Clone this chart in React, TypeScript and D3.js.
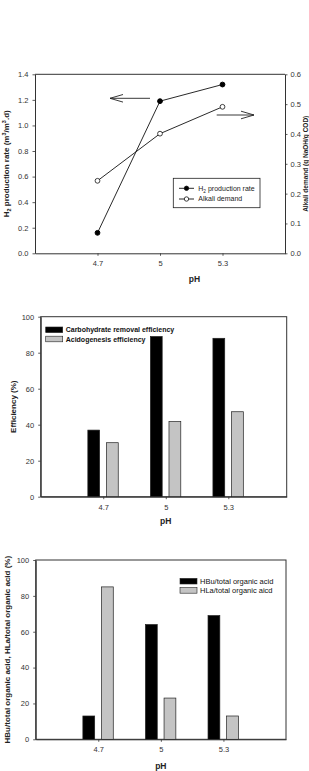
import React, { useEffect, useRef } from "react";
import * as d3 from "d3";

// pH levels shared by all three panels
const phLevels = [4.7, 5, 5.3];
const phTickLabels = ["4.7", "5", "5.3"];

// Panel A: hydrogen production rate (left axis) and alkali demand (right axis)
const h2Rate = [0.16, 1.19, 1.32];
const alkaliDemand = [0.243, 0.401, 0.491];
const leftTicks = [0, 0.2, 0.4, 0.6, 0.8, 1.0, 1.2, 1.4];
const rightTicks = [0, 0.1, 0.2, 0.3, 0.4, 0.5, 0.6];

// Panel B: efficiencies (%)
const carbohydrateRemoval = [37, 89, 88];
const acidogenesis = [30, 41.7, 47.2];

// Panel C: acid fractions (%)
const hbuFraction = [13, 64, 69];
const hlaFraction = [85, 23, 13];
const percentTicks = [0, 20, 40, 60, 80, 100];

const FONT = "'Liberation Sans', Arial, sans-serif";
const AXIS = "#333";
const GREY = "#c4c4c4";

function styleAxis(g: d3.Selection<SVGGElement, unknown, null, undefined>) {
  g.selectAll("path").attr("stroke", AXIS).attr("stroke-width", 1);
  g.selectAll("line").attr("stroke", AXIS).attr("stroke-width", 0.8);
  g.selectAll("text")
    .attr("fill", "#333")
    .attr("font-size", 7.5)
    .attr("font-family", FONT);
}

function drawArrow(
  g: d3.Selection<SVGGElement, unknown, null, undefined>,
  x0: number,
  x1: number,
  y: number
) {
  // shaft from x0 to tip x1, open chevron head at x1
  const dir = x1 > x0 ? -1 : 1;
  g.append("line")
    .attr("x1", x0).attr("x2", x1).attr("y1", y).attr("y2", y)
    .attr("stroke", "#222").attr("stroke-width", 0.9);
  g.append("path")
    .attr("d", `M${x1 + dir * 13},${y - 3.8} L${x1},${y} L${x1 + dir * 13},${y + 3.8}`)
    .attr("fill", "none").attr("stroke", "#222").attr("stroke-width", 0.9);
}

export default function App() {
  const ref = useRef<SVGSVGElement | null>(null);

  useEffect(() => {
    const svg = d3.select(ref.current as SVGSVGElement);
    svg.selectAll("*").remove();

    // ---------- Panel A ----------
    {
      const L = 35, R = 285, T = 74.3, B = 253.3;
      const x = d3.scaleLinear().domain([4.4, 5.6]).range([L, R]);
      const yL = d3.scaleLinear().domain([0, 1.4]).range([B, T]);
      const yR = d3.scaleLinear().domain([0, 0.6]).range([B, T]);
      const g = svg.append("g");

      // frame top line
      g.append("line").attr("x1", L).attr("x2", R).attr("y1", T).attr("y2", T)
        .attr("stroke", AXIS).attr("stroke-width", 1);

      const ax = g.append("g").attr("transform", `translate(0,${B})`)
        .call(d3.axisBottom(x).tickValues(phLevels)
          .tickFormat((_, i) => phTickLabels[i]).tickSize(2.5).tickSizeOuter(0).tickPadding(5));
      styleAxis(ax);
      const ayl = g.append("g").attr("transform", `translate(${L},0)`)
        .call(d3.axisLeft(yL).tickValues(leftTicks).tickFormat(d3.format(".1f"))
          .tickSize(2.5).tickSizeOuter(0).tickPadding(4));
      styleAxis(ayl);
      const ayr = g.append("g").attr("transform", `translate(${R},0)`)
        .call(d3.axisRight(yR).tickValues(rightTicks).tickFormat(d3.format(".1f"))
          .tickSize(2.5).tickSizeOuter(0).tickPadding(3));
      styleAxis(ayr);

      const h2Line = d3.line<number>().x((_, i) => x(phLevels[i])).y((d) => yL(d));
      const alkLine = d3.line<number>().x((_, i) => x(phLevels[i])).y((d) => yR(d));
      g.append("path").attr("d", h2Line(h2Rate)).attr("fill", "none")
        .attr("stroke", "#111").attr("stroke-width", 0.9);
      g.append("path").attr("d", alkLine(alkaliDemand)).attr("fill", "none")
        .attr("stroke", "#111").attr("stroke-width", 0.9);
      g.selectAll(".h2pt").data(h2Rate).enter().append("circle")
        .attr("cx", (_, i) => x(phLevels[i])).attr("cy", (d) => yL(d))
        .attr("r", 2.4).attr("fill", "#000").attr("stroke", "#000");
      g.selectAll(".alkpt").data(alkaliDemand).enter().append("circle")
        .attr("cx", (_, i) => x(phLevels[i])).attr("cy", (d) => yR(d))
        .attr("r", 2.4).attr("fill", "#fff").attr("stroke", "#111").attr("stroke-width", 0.8);

      drawArrow(g, 150, 110, 98.3);
      drawArrow(g, 216.7, 254, 115);

      // legend
      const lg = g.append("g");
      lg.append("rect").attr("x", 173.3).attr("y", 178.3).attr("width", 86.7).attr("height", 29.4)
        .attr("fill", "#fff").attr("stroke", "#222").attr("stroke-width", 0.8);
      const rows = [
        { y: 188.3, fill: "#000", label: "production rate", sub: true },
        { y: 199, fill: "#fff", label: "Alkali demand", sub: false },
      ];
      rows.forEach((r) => {
        lg.append("line").attr("x1", 179).attr("x2", 194).attr("y1", r.y).attr("y2", r.y)
          .attr("stroke", "#111").attr("stroke-width", 0.9);
        lg.append("circle").attr("cx", 186.5).attr("cy", r.y).attr("r", 2.2)
          .attr("fill", r.fill).attr("stroke", "#111").attr("stroke-width", 0.8);
        const t = lg.append("text").attr("x", 198.3).attr("y", r.y + 2.4)
          .attr("font-size", 7).attr("font-family", FONT).attr("fill", "#222");
        if (r.sub) {
          t.append("tspan").text("H");
          t.append("tspan").attr("font-size", 4.8).attr("dy", 1.8).text("2");
          t.append("tspan").attr("dy", -1.8).text(" " + r.label);
        } else {
          t.text(r.label);
        }
      });

      // axis titles
      g.append("text").attr("x", (L + R) / 2 + 34.5).attr("y", 282)
        .attr("text-anchor", "middle").attr("font-size", 8.5).attr("font-weight", "bold")
        .attr("font-family", FONT).attr("fill", "#222").text("pH");
      const yt = g.append("text").attr("transform", `translate(9,${(T + B) / 2}) rotate(-90)`)
        .attr("text-anchor", "middle").attr("font-size", 8).attr("font-weight", "bold")
        .attr("font-family", FONT).attr("fill", "#222");
      yt.append("tspan").text("H");
      yt.append("tspan").attr("font-size", 5.5).attr("dy", 2).text("2");
      yt.append("tspan").attr("dy", -2).text(" production rate (m");
      yt.append("tspan").attr("font-size", 5.5).attr("dy", -3).text("3");
      yt.append("tspan").attr("dy", 3).text("/m");
      yt.append("tspan").attr("font-size", 5.5).attr("dy", -3).text("3");
      yt.append("tspan").attr("dy", 3).text(".d)");
      g.append("text").attr("transform", `translate(307.5,${(T + B) / 2}) rotate(-90)`)
        .attr("text-anchor", "middle").attr("font-size", 6.5).attr("font-weight", "bold")
        .attr("font-family", FONT).attr("fill", "#222")
        .text("Alkali demand (g NaOH/g COD)");
    }

    // ---------- grouped bar panels ----------
    const barPanel = (
      L: number, R: number, T: number, B: number, domain: [number, number],
      black: number[], grey: number[], legend: string[],
      legendX: number, legendY: number, legendBold: boolean, legendSize: number,
      yTitle: string, yTitleX: number, xTitleY: number
    ) => {
      const x = d3.scaleLinear().domain(domain).range([L, R]);
      const y = d3.scaleLinear().domain([0, 100]).range([B, T]);
      const g = svg.append("g");

      // frame
      g.append("rect").attr("x", L).attr("y", T).attr("width", R - L).attr("height", B - T)
        .attr("fill", "none").attr("stroke", AXIS).attr("stroke-width", 1);

      const bw = 11.8;
      g.selectAll(".b").data(black).enter().append("rect")
        .attr("x", (_, i) => x(phLevels[i]) - 15.4).attr("width", bw)
        .attr("y", (d) => y(d)).attr("height", (d) => B - y(d))
        .attr("fill", "#000").attr("stroke", "#222").attr("stroke-width", 0.7);
      g.selectAll(".g").data(grey).enter().append("rect")
        .attr("x", (_, i) => x(phLevels[i]) + 3.2).attr("width", bw)
        .attr("y", (d) => y(d)).attr("height", (d) => B - y(d))
        .attr("fill", GREY).attr("stroke", "#222").attr("stroke-width", 0.7);

      const ax = g.append("g").attr("transform", `translate(0,${B})`)
        .call(d3.axisBottom(x).tickValues(phLevels)
          .tickFormat((_, i) => phTickLabels[i]).tickSize(2.5).tickSizeOuter(0).tickPadding(5));
      styleAxis(ax);
      const ay = g.append("g").attr("transform", `translate(${L},0)`)
        .call(d3.axisLeft(y).tickValues(percentTicks).tickSize(2.5).tickSizeOuter(0).tickPadding(4));
      styleAxis(ay);

      // legend
      legend.forEach((lab, i) => {
        const yy = legendY + i * 9.2;
        g.append("rect").attr("x", legendX).attr("y", yy - 2.8).attr("width", 17).attr("height", 5.6)
          .attr("fill", i === 0 ? "#000" : GREY).attr("stroke", "#222").attr("stroke-width", 0.6);
        g.append("text").attr("x", legendX + 20).attr("y", yy + 2.6)
          .attr("font-size", legendSize).attr("font-weight", legendBold ? "bold" : "normal")
          .attr("font-family", FONT).attr("fill", "#111").text(lab);
      });

      g.append("text").attr("x", x(5)).attr("y", xTitleY)
        .attr("text-anchor", "middle").attr("font-size", 8.5).attr("font-weight", "bold")
        .attr("font-family", FONT).attr("fill", "#222").text("pH");
      g.append("text").attr("transform", `translate(${yTitleX},${(T + B) / 2}) rotate(-90)`)
        .attr("text-anchor", "middle").attr("font-size", 8).attr("font-weight", "bold")
        .attr("font-family", FONT).attr("fill", "#222").text(yTitle);
    };

    barPanel(40.7, 286.7, 316.7, 496.7, [4.4, 5.58],
      carbohydrateRemoval, acidogenesis,
      ["Carbohydrate removal efficiency", "Acidogenesis efficiency"],
      45.7, 329.8, true, 7,
      "Efficiency (%)", 16, 524);

    barPanel(35.7, 286, 560, 739.3, [4.4, 5.6],
      hbuFraction, hlaFraction,
      ["HBu/total organic acid", "HLa/total organic aicd"],
      180, 581.2, false, 7.5,
      "HBu/total organic acid, HLa/total organic acid (%)", 10, 769);
  }, []);

  return (
    <svg
      ref={ref}
      width={309}
      height={771}
      style={{ position: "absolute", left: 0, top: 0, background: "#fff" }}
    />
  );
}
